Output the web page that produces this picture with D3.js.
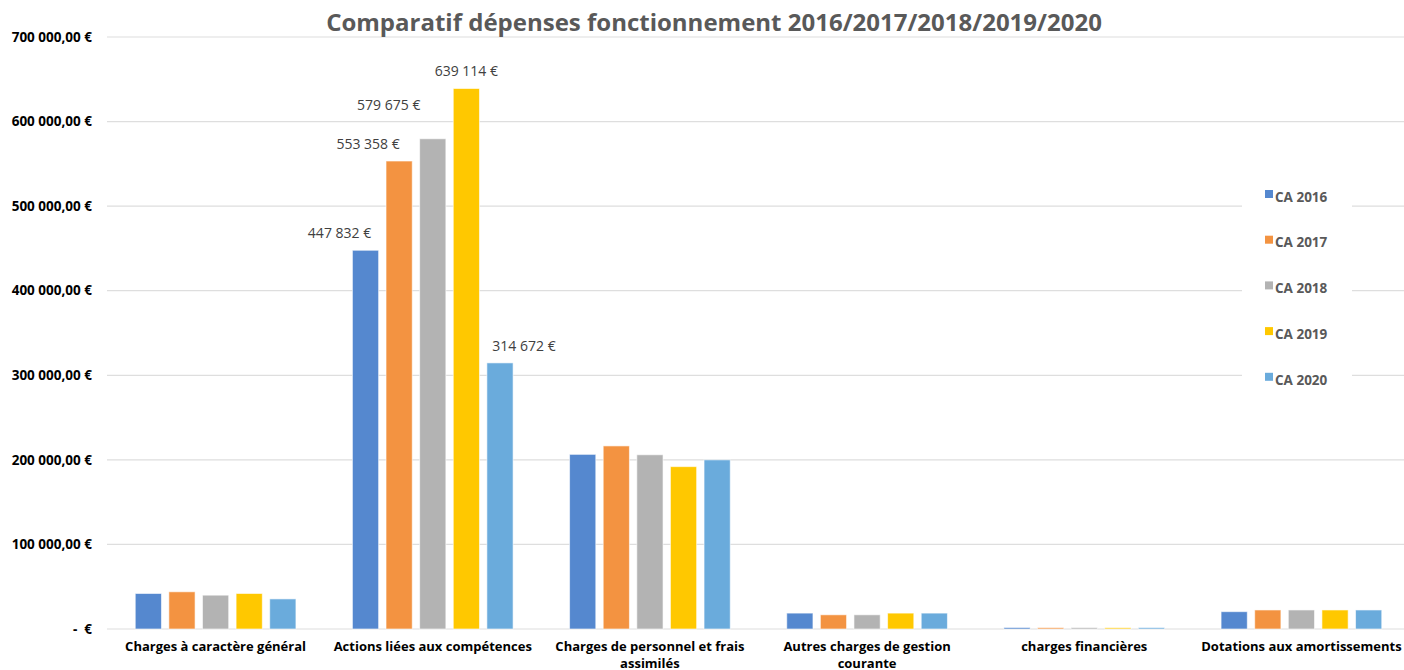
<!DOCTYPE html>
<html>
<head>
<meta charset="utf-8">
<script src="https://cdn.jsdelivr.net/npm/d3@7"></script>
<style>
  html, body { margin: 0; padding: 0; background: #fff; }
  svg { display: block; }
</style>
</head>
<body>
<div id="chart"></div>
<script>
// categories, series and values
const categories = [
    "Charges à caractère général",
    "Actions liées aux compétences",
    "Charges de personnel et frais assimilés",
    "Autres charges de gestion courante",
    "charges financières",
    "Dotations aux amortissements"
];
const series = ["CA 2016", "CA 2017", "CA 2018", "CA 2019", "CA 2020"];
const ca2016 = [42000, 447832, 206500, 18800, 1800, 20500];
const ca2017 = [44000, 553358, 216500, 16800, 1600, 22500];
const ca2018 = [40000, 579675, 206000, 16800, 1700, 22500];
const ca2019 = [42000, 639114, 192000, 18800, 1500, 22500];
const ca2020 = [35600, 314672, 200000, 18800, 1700, 22500];
const yTicks = [0, 100000, 200000, 300000, 400000, 500000, 600000, 700000];
// only the second category carries value labels
const labelledCategory = "Actions liées aux compétences";

const colors = ["#5588cf", "#f39341", "#b3b3b3", "#ffc800", "#6aabdc"];
// manual nudges of the value labels, as placed in the original (dx, dy)
const labelNudge = [[-26, 0], [-31, 0], [-44, -17], [0, 0], [24, 0]];

const width = 1404, height = 670;
const margin = { top: 37, right: -6, bottom: 41, left: 107 };

const values = [ca2016, ca2017, ca2018, ca2019, ca2020];
const rows = categories.map((c, i) => ({
    category: c,
    bars: series.map((s, j) => ({ series: s, index: j, value: values[j][i] }))
}));

const svg = d3.select("#chart").append("svg")
    .attr("width", width)
    .attr("height", height)
    .attr("font-family", "'Open Sans', sans-serif");

const x0 = d3.scaleBand()
    .domain(categories)
    .range([margin.left, width - margin.right]);

const x1 = d3.scaleBand()
    .domain(series)
    .range([0, x0.bandwidth()])
    .paddingInner(0.22)
    .paddingOuter(0.84);

const y = d3.scaleLinear()
    .domain([0, 700000])
    .range([height - margin.bottom, margin.top]);

// gridlines
svg.append("g")
    .selectAll("line")
    .data(yTicks)
    .join("line")
    .attr("x1", margin.left)
    .attr("x2", width)
    .attr("y1", d => y(d))
    .attr("y2", d => y(d))
    .attr("stroke", "#dedede")
    .attr("stroke-width", 1.2);

// y tick labels
const euro = d => d === 0 ? "-  €" : d3.format(",.2f")(d).replace(/,/g, " ").replace(".", ",") + " €";
svg.append("g")
    .selectAll("text")
    .data(yTicks)
    .join("text")
    .attr("x", 92)
    .attr("y", d => y(d))
    .attr("dy", "0.35em")
    .attr("text-anchor", "end")
    .attr("font-size", 13.5)
    .attr("font-weight", "bold")
    .attr("fill", "#000")
    .style("white-space", "pre")
    .text(euro);

// bars
const group = svg.append("g")
    .selectAll("g")
    .data(rows)
    .join("g")
    .attr("transform", d => `translate(${x0(d.category)},0)`);

group.selectAll("rect")
    .data(d => d.bars)
    .join("rect")
    .attr("x", d => x1(d.series))
    .attr("width", x1.bandwidth())
    .attr("y", d => y(d.value))
    .attr("height", d => y(0) - y(d.value))
    .attr("fill", d => colors[d.index])
    .attr("stroke", "#fff")
    .attr("stroke-opacity", 0.6)
    .attr("stroke-width", 1);

// value labels
const labelFmt = d => d3.format(",.0f")(d).replace(/,/g, " ") + " €";
group.filter(d => d.category === labelledCategory)
    .selectAll("text")
    .data(d => d.bars)
    .join("text")
    .attr("x", d => x1(d.series) + x1.bandwidth() / 2 + labelNudge[d.index][0])
    .attr("y", d => y(d.value) - 12 + labelNudge[d.index][1])
    .attr("text-anchor", "middle")
    .attr("font-size", 14)
    .attr("fill", "#404040")
    .text(d => labelFmt(d.value));

// category labels, wrapped
const xLabels = svg.append("g")
    .selectAll("text")
    .data(categories)
    .join("text")
    .attr("x", d => x0(d) + x0.bandwidth() / 2)
    .attr("y", 651)
    .attr("text-anchor", "middle")
    .attr("font-size", 13)
    .attr("font-weight", "bold")
    .attr("fill", "#000");

xLabels.each(function (d) {
    const text = d3.select(this);
    const words = d.split(" ");
    let line = [];
    let tspan = text.append("tspan").attr("x", text.attr("x")).attr("dy", 0);
    for (const w of words) {
        line.push(w);
        tspan.text(line.join(" "));
        if (tspan.node().getComputedTextLength() > 208 && line.length > 1) {
            line.pop();
            tspan.text(line.join(" "));
            line = [w];
            tspan = text.append("tspan").attr("x", text.attr("x")).attr("dy", 17).text(w);
        }
    }
});

// title
svg.append("text")
    .attr("x", 714)
    .attr("y", 31)
    .attr("text-anchor", "middle")
    .attr("font-size", 24)
    .attr("font-weight", "bold")
    .attr("fill", "#595959")
    .text("Comparatif dépenses fonctionnement 2016/2017/2018/2019/2020");

// legend
const legend = svg.append("g");
legend.append("rect")
    .attr("x", 1242)
    .attr("y", 180)
    .attr("width", 110)
    .attr("height", 215)
    .attr("fill", "#fff");

const item = legend.selectAll("g")
    .data(series)
    .join("g")
    .attr("transform", (d, i) => `translate(1265,${197 + i * 45.7})`);

item.append("rect")
    .attr("y", -7)
    .attr("width", 8)
    .attr("height", 8)
    .attr("fill", (d, i) => colors[i]);

item.append("text")
    .attr("x", 10)
    .attr("dy", "0.35em")
    .attr("font-size", 13.5)
    .attr("font-weight", "bold")
    .attr("fill", "#595959")
    .text(d => d);
</script>
</body>
</html>
